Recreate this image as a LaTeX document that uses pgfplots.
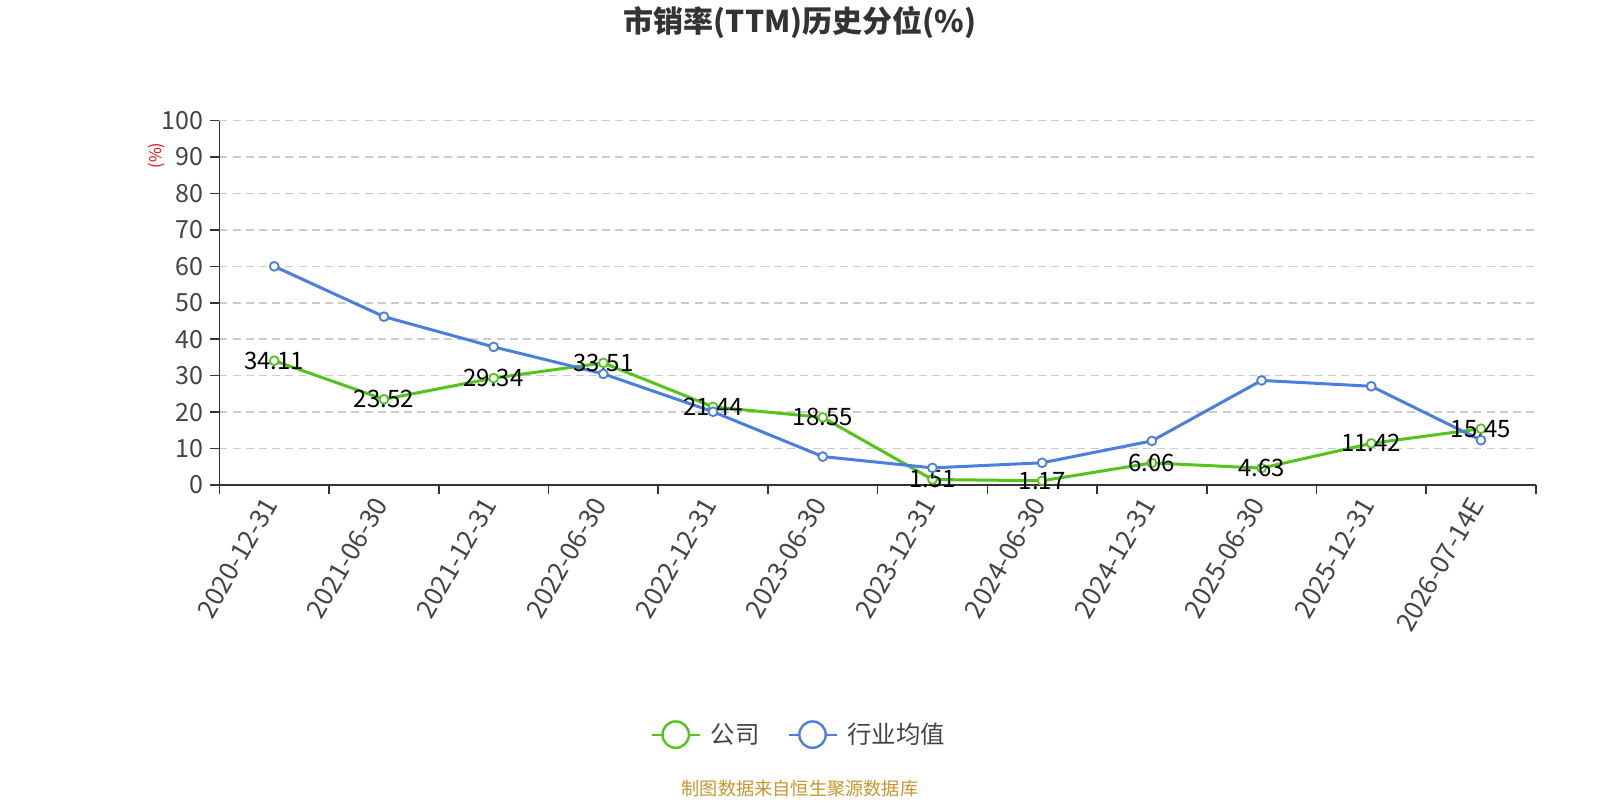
\documentclass[border=0pt]{standalone}
\usepackage{fontspec}
\setmainfont{Noto Sans CJK SC}
\usepackage{pgfplots}
\pgfplotsset{compat=1.18}
\definecolor{cgreen}{RGB}{82,196,26}
\definecolor{cblue}{RGB}{74,126,223}
\definecolor{ctext}{RGB}{68,68,68}
\definecolor{ctitle}{RGB}{51,51,51}
\definecolor{cgrid}{RGB}{204,204,204}
\definecolor{cfoot}{RGB}{201,150,43}
\begin{document}
\begin{tikzpicture}
\path[use as bounding box] (0,0) rectangle (800pt,400pt);
\node[font=\fontsize{15pt}{18pt}\selectfont\bfseries, text=ctitle] at (400pt,388.8pt) {市销率(TTM)历史分位(\%)};
\node[font=\fontsize{9.1pt}{11pt}\selectfont, text=cfoot] at (400pt,5.8pt) {制图数据来自恒生聚源数据库};
\begin{axis}[
  at={(109.7pt,157.5pt)}, anchor=south west,
  scale only axis, width=658.2pt, height=182.2pt,
  xmin=-0.5, xmax=11.5, ymin=0, ymax=100,
  axis x line=bottom, axis y line=left,
  axis line style={-, ctitle, line width=0.8pt},
  xtick={0,...,11},
  xticklabels={2020-12-31,2021-06-30,2021-12-31,2022-06-30,2022-12-31,2023-06-30,2023-12-31,2024-06-30,2024-12-31,2025-06-30,2025-12-31,2026-07-14E},
  major x tick style={draw=none},
  minor xtick={-0.5,0.5,...,11.5},
  minor x tick style={ctitle, line width=0.8pt},
  minor tick length=4.5pt,
  ytick={0,10,...,100},
  major y tick style={ctitle, line width=0.8pt},
  major tick length=4.5pt,
  tick align=outside,
  ymajorgrids,
  grid style={cgrid, line width=0.75pt, dash pattern=on 4pt off 2.6pt},
  /pgf/number format/assume math mode=true,
  xticklabel style={rotate=60, anchor=east, font=\fontsize{13pt}{15pt}\selectfont, text=ctext},
  yticklabel style={font=\fontsize{12.5pt}{15pt}\selectfont, text=ctext},
  ylabel={(\%)},
  every axis y label/.style={at={(rel axis cs:0,0.904)}, xshift=-31.2pt, rotate=90, anchor=center, font=\fontsize{8pt}{9pt}\selectfont, text=red},
  legend style={at={(0.441,-0.685)}, anchor=center, draw=none, legend columns=2,
    font=\fontsize{12.2pt}{14pt}\selectfont, text=ctext,
    /tikz/every odd column/.append style={column sep=3pt},
    /tikz/every even column/.append style={column sep=12pt}},
  legend image code/.code={
    \draw[#1, line width=1pt] (0pt,0pt) -- (24pt,0pt);
    \draw[#1, line width=1.2pt, fill=white] (12pt,0pt) circle (6.6pt);
  },
]
\addplot[color=cgreen, line width=1.5pt, mark=*, mark size=2.2pt, mark options={fill=white, line width=0.9pt},
  nodes near coords={\pgfmathprintnumber[fixed,precision=2,fixed zerofill]{\pgfplotspointmeta}},
  every node near coord/.append style={anchor=center, font=\fontsize{12pt}{14pt}\selectfont, text=black}]
coordinates {(0,34.11) (1,23.52) (2,29.34) (3,33.51) (4,21.44) (5,18.55) (6,1.51) (7,1.17) (8,6.06) (9,4.63) (10,11.42) (11,15.45)};
\addlegendentry{公司}
\addplot[color=cblue, line width=1.5pt, mark=*, mark size=2.2pt, mark options={fill=white, line width=0.9pt}]
coordinates {(0,60.0) (1,46.2) (2,37.9) (3,30.5) (4,20.1) (5,7.8) (6,4.7) (7,6.1) (8,12.1) (9,28.7) (10,27.1) (11,12.3)};
\addlegendentry{行业均值}
\end{axis}
\end{tikzpicture}
\end{document}
